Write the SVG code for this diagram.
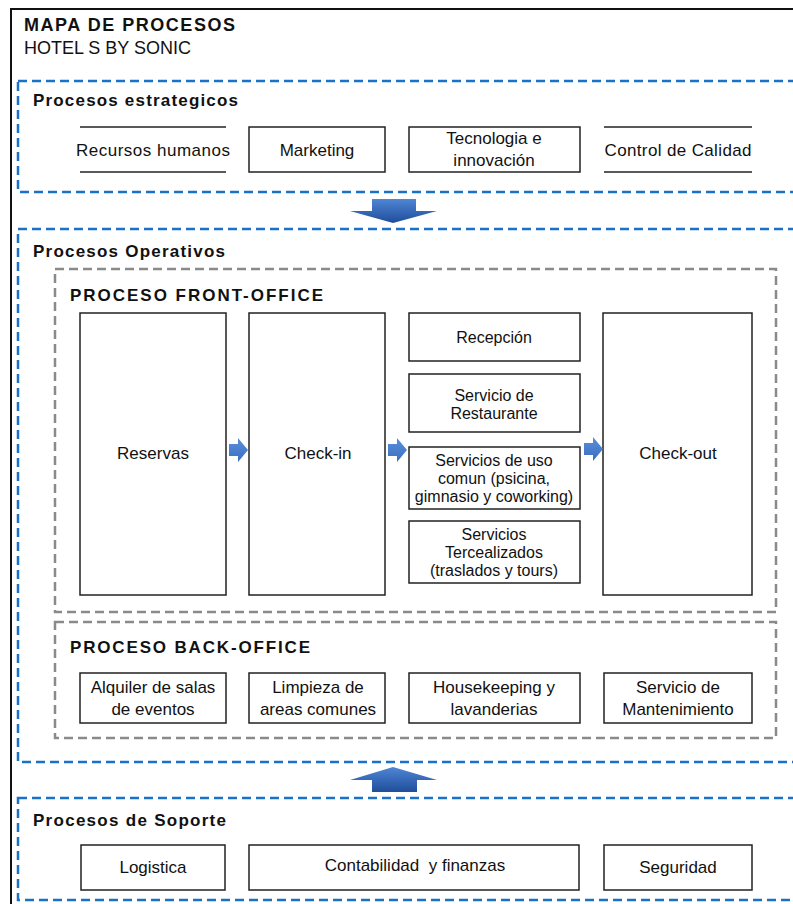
<svg xmlns="http://www.w3.org/2000/svg" width="793" height="904" viewBox="0 0 793 904">
<defs>
<linearGradient id="gBlue" x1="0" y1="0" x2="0" y2="1">
<stop offset="0" stop-color="#4f86d6"/>
<stop offset="1" stop-color="#1f4d9a"/>
</linearGradient>
<linearGradient id="gSmall" x1="0" y1="0" x2="0" y2="1">
<stop offset="0" stop-color="#5a8fdc"/>
<stop offset="1" stop-color="#3a6fc0"/>
</linearGradient>
</defs>
<style>
.frame{fill:none;stroke:#111;stroke-width:2}
.blue{fill:none;stroke:#1a72c6;stroke-width:2.5;stroke-dasharray:9 5}
.gray{fill:none;stroke:#8a8a8a;stroke-width:2.5;stroke-dasharray:9 5}
.box{fill:#fff;stroke:#222;stroke-width:1.5}
.ln{stroke:#222;stroke-width:1.5}
.t{font-family:"Liberation Sans",Arial,sans-serif;fill:#111}
.n{font-size:17px;text-anchor:middle}
.s{font-size:16px;text-anchor:middle}
.h{font-size:17px;font-weight:bold}
</style>
<rect width="793" height="904" fill="#fff"/>
<rect class="frame" x="11" y="9" width="800" height="910"/>
<g id="title">
<text class="t" x="24" y="31" font-size="18" font-weight="bold" textLength="211" lengthAdjust="spacing">MAPA DE PROCESOS</text>
<text class="t" x="24" y="54" font-size="18">HOTEL S BY SONIC</text>
</g>
<g id="estrategicos">
<rect class="blue" x="18" y="81" width="790" height="111"/>
<text class="t h" x="33" y="106" textLength="205" lengthAdjust="spacing">Procesos estrategicos</text>
</g>
<g id="recursos-humanos">
<line class="ln" x1="80" y1="127" x2="226" y2="127"/>
<line class="ln" x1="80" y1="172" x2="226" y2="172"/>
<text class="t n" x="153" y="156" textLength="154" lengthAdjust="spacing">Recursos humanos</text>
</g>
<g id="marketing">
<rect class="box" x="249" y="127" width="136" height="45"/>
<text class="t n" x="317" y="156">Marketing</text>
</g>
<g id="tecnologia">
<rect class="box" x="409" y="127" width="171" height="45"/>
<text class="t n" x="494" y="144">Tecnologia e</text>
<text class="t n" x="494" y="166">innovación</text>
</g>
<g id="control-calidad">
<line class="ln" x1="604" y1="127" x2="752" y2="127"/>
<line class="ln" x1="604" y1="172" x2="752" y2="172"/>
<text class="t n" x="678" y="156" textLength="147" lengthAdjust="spacing">Control de Calidad</text>
</g>
<g id="operativos">
<rect class="blue" x="18" y="229" width="790" height="533"/>
<text class="t h" x="33" y="257" textLength="192" lengthAdjust="spacing">Procesos Operativos</text>
</g>
<g id="front-office">
<rect class="gray" x="55" y="269" width="721" height="343"/>
<text class="t h" x="70" y="301" textLength="253" lengthAdjust="spacing">PROCESO FRONT-OFFICE</text>
</g>
<g id="reservas">
<rect class="box" x="80" y="313" width="146" height="282"/>
<text class="t n" x="153" y="459">Reservas</text>
</g>
<g id="check-in">
<rect class="box" x="249" y="313" width="136" height="282"/>
<text class="t n" x="318" y="459">Check-in</text>
</g>
<g id="recepcion">
<rect class="box" x="409" y="313" width="171" height="48"/>
<text class="t s" x="494" y="343">Recepción</text>
</g>
<g id="restaurante">
<rect class="box" x="409" y="374" width="171" height="58"/>
<text class="t s" x="494" y="401">Servicio de</text>
<text class="t s" x="494" y="419">Restaurante</text>
</g>
<g id="uso-comun">
<rect class="box" x="409" y="447" width="171" height="62"/>
<text class="t s" x="494" y="466">Servicios de uso</text>
<text class="t s" x="494" y="484">comun (psicina,</text>
<text class="t s" x="494" y="502">gimnasio y coworking)</text>
</g>
<g id="tercealizados">
<rect class="box" x="409" y="521" width="171" height="62"/>
<text class="t s" x="494" y="540">Servicios</text>
<text class="t s" x="494" y="558">Tercealizados</text>
<text class="t s" x="494" y="576">(traslados y tours)</text>
</g>
<g id="check-out">
<rect class="box" x="603" y="313" width="149" height="282"/>
<text class="t n" x="678" y="459">Check-out</text>
</g>
<g id="back-office">
<rect class="gray" x="55" y="622" width="721" height="116"/>
<text class="t h" x="70" y="653" textLength="240" lengthAdjust="spacing">PROCESO BACK-OFFICE</text>
</g>
<g id="alquiler">
<rect class="box" x="80" y="673" width="146" height="50"/>
<text class="t n" x="153" y="693">Alquiler de salas</text>
<text class="t n" x="153" y="715">de eventos</text>
</g>
<g id="limpieza">
<rect class="box" x="249" y="673" width="136" height="50"/>
<text class="t n" x="318" y="693">Limpieza de</text>
<text class="t n" x="318" y="715">areas comunes</text>
</g>
<g id="housekeeping">
<rect class="box" x="409" y="673" width="171" height="50"/>
<text class="t n" x="494" y="693">Housekeeping y</text>
<text class="t n" x="494" y="715">lavanderias</text>
</g>
<g id="mantenimiento">
<rect class="box" x="604" y="673" width="148" height="50"/>
<text class="t n" x="678" y="693">Servicio de</text>
<text class="t n" x="678" y="715">Mantenimiento</text>
</g>
<g id="soporte">
<rect class="blue" x="18" y="798" width="790" height="102"/>
<text class="t h" x="33" y="826" textLength="193" lengthAdjust="spacing">Procesos de Soporte</text>
</g>
<g id="logistica">
<rect class="box" x="81" y="845" width="144" height="45"/>
<text class="t n" x="153" y="873">Logistica</text>
</g>
<g id="contabilidad">
<rect class="box" x="249" y="845" width="330" height="45"/>
<text class="t n" x="415" y="871">Contabilidad&#160; y finanzas</text>
</g>
<g id="seguridad">
<rect class="box" x="604" y="845" width="148" height="45"/>
<text class="t n" x="678" y="873">Seguridad</text>
</g>
<g id="connectors">
<path d="M372,199 L416,199 L416,211 L437,211 L393,223 L350,211 L372,211 Z" fill="url(#gBlue)"/>
<path d="M393,767 L437,780 L417,780 L417,792 L372,792 L372,780 L350,780 Z" fill="url(#gBlue)"/>
<path d="M229,444 L238,444 L238,438 L248,450 L238,462 L238,456 L229,456 Z" fill="url(#gSmall)"/>
<path d="M388,444 L397,444 L397,438 L407,450 L397,462 L397,456 L388,456 Z" fill="url(#gSmall)"/>
<path d="M584,443 L593,443 L593,437 L603,449 L593,461 L593,455 L584,455 Z" fill="url(#gSmall)"/>
</g>
</svg>
